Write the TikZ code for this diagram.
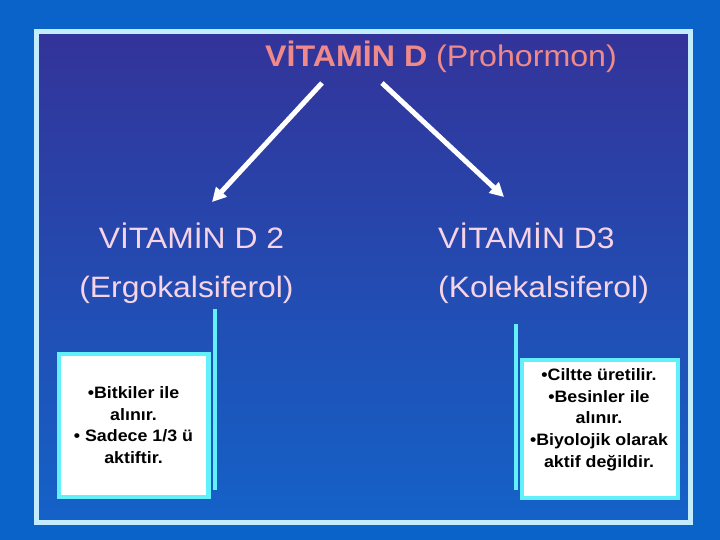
\documentclass[tikz,border=0pt]{standalone}
\usepackage{fontspec}
\setmainfont{Liberation Sans}[FakeStretch=1.08]
\usetikzlibrary{arrows.meta}
\definecolor{outerbg}{HTML}{0A63C9}
\definecolor{framec}{HTML}{C4ECFF}
\definecolor{innertop}{HTML}{333399}
\definecolor{innermid}{HTML}{2E42A3}
\definecolor{innerbot}{HTML}{1462C8}
\definecolor{boxc}{HTML}{62F0FA}
\definecolor{titlec}{HTML}{F08A8A}
\definecolor{labelc}{HTML}{F7D3E6}
\tikzset{
  titletext/.style={inner sep=0pt, text=titlec, font=\fontsize{29.8}{36}\selectfont},
  labeltext/.style={inner sep=0pt, text=labelc, font=\fontsize{29.5}{35}\selectfont},
  infobox/.style={draw=boxc, line width=4.5pt, fill=white},
  infotext/.style={inner sep=0pt, align=center, text=black, font=\fontsize{16.5}{21.7}\selectfont\bfseries},
  sideline/.style={draw=boxc, line width=4pt},
  bigarrow/.style={draw=white, line width=5pt, -{Triangle[length=14pt,width=14pt]}}
}
\begin{document}
\begin{tikzpicture}[x=1pt,y=-1pt]
\useasboundingbox (0,0) rectangle (720,540);
\fill[outerbg] (0,0) rectangle (720,540);
\shade[top color=innertop, middle color=innermid, bottom color=innerbot] (36.5,31.5) rectangle (690,522);
\draw[framec, line width=5pt] (36.5,31.5) rectangle (690,522);

% title
\node[titletext, anchor=base west] (title) at (265,67) {\textbf{VİTAMİN D} (Prohormon)};

% labels
\node[labeltext, anchor=base] (d2) at (191.5,248) {VİTAMİN D 2};
\node[labeltext, anchor=base] (d2b) at (186.5,297) {(Ergokalsiferol)};
\node[labeltext, anchor=base west] (d3) at (438,248) {VİTAMİN D3};
\node[labeltext, anchor=base west] (d3b) at (438,297) {(Kolekalsiferol)};

% arrows
\coordinate (ls) at (322,83);
\coordinate (le) at (212,202);
\coordinate (rs) at (382,83);
\coordinate (re) at (504,197);
\draw[bigarrow] (ls) -- (le);
\draw[bigarrow] (rs) -- (re);

% side lines
\coordinate (l1) at (214.7,309);
\coordinate (l2) at (214.7,490);
\coordinate (r1) at (516,324);
\coordinate (r2) at (516,490);
\draw[sideline] (l1) -- (l2);
\draw[sideline] (r1) -- (r2);

% boxes
\draw[infobox] (59,354) rectangle (208.5,497);
\draw[infobox] (522,360) rectangle (678,498);
\node[infotext] (ltext) at (133.5,425) {•Bitkiler ile\\alınır.\\• Sadece 1/3 ü\\aktiftir.};
\node[infotext] (rtext) at (599,419.5) {•Ciltte üretilir.\\•Besinler ile\\alınır.\\•Biyolojik olarak\\aktif değildir.};
\end{tikzpicture}
\end{document}
